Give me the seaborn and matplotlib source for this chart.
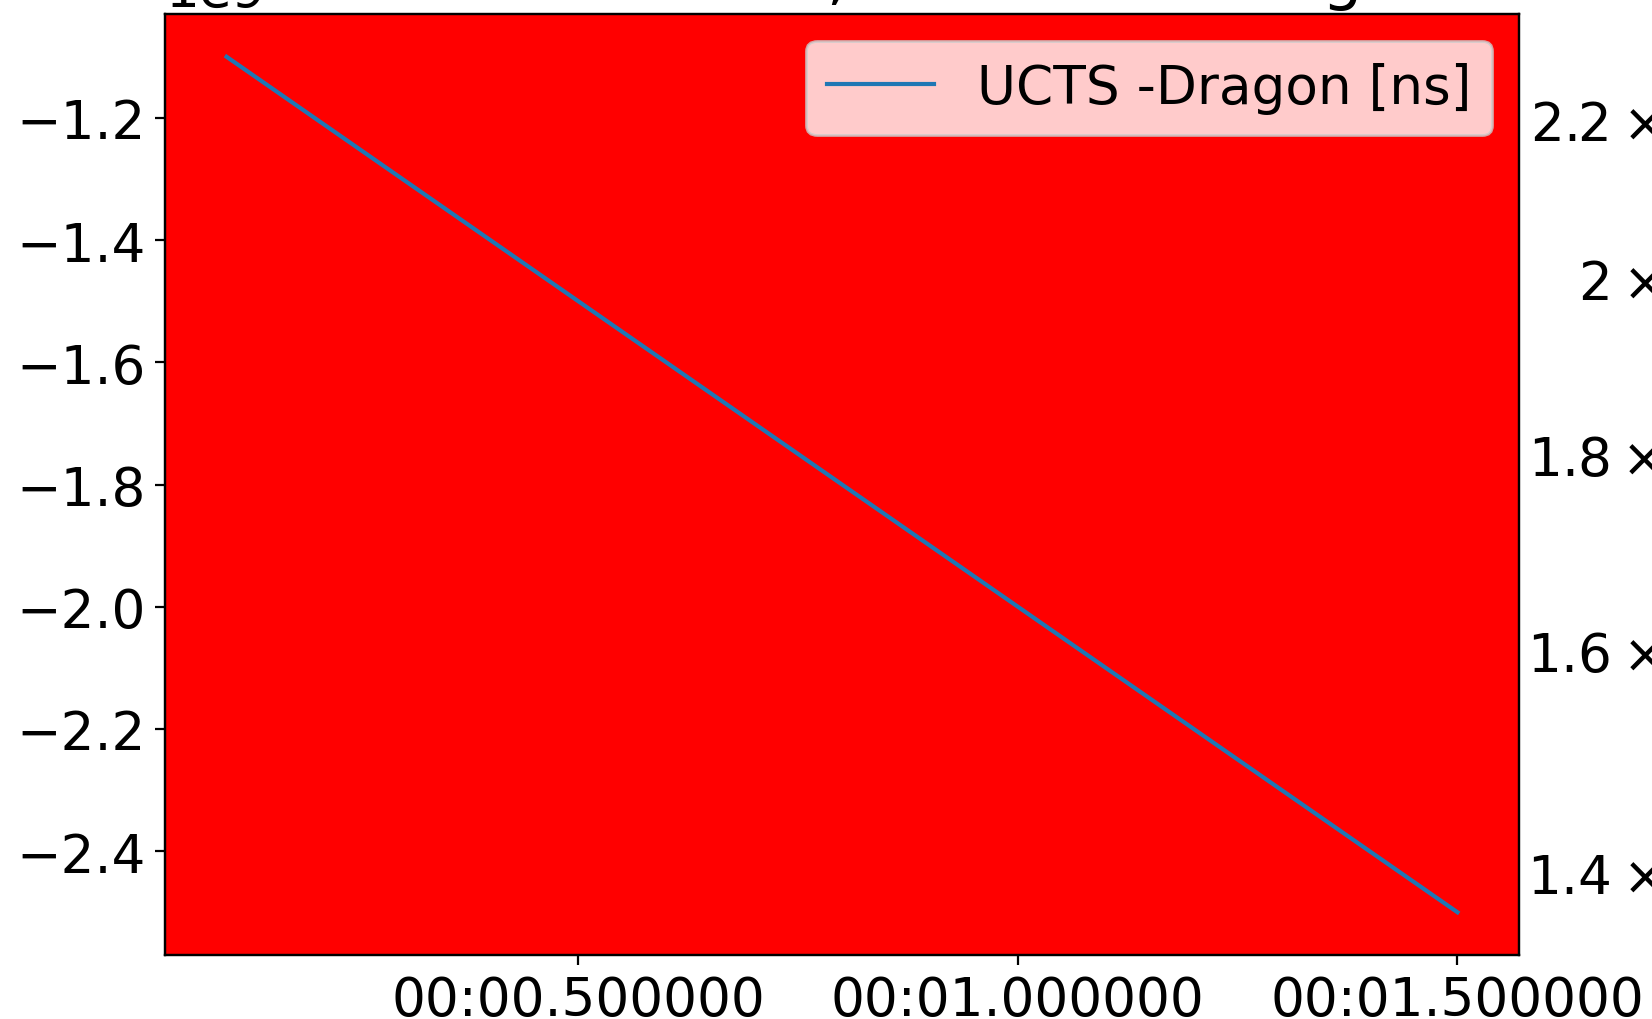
"""UCTS - Dragon timestamp difference against event time."""

import matplotlib

matplotlib.use("Agg")
import matplotlib.dates as mdates
import matplotlib.pyplot as plt
import pandas as pd
import seaborn as sns


# seconds since start of run, and UCTS - Dragon difference [ns]
time_s = [0.1, 0.5, 1.0, 1.5]
delta_ns = [-1.1e9, -1.5e9, -2.0e9, -2.5e9]
series_label = "UCTS -Dragon [ns]"
title = "Time delta UCTS - TIB, run 1800 at high rate"
right_limits = [1.333e9, 2.345e9]

DPI = 200
plt.rcParams["font.size"] = 19.2

df = pd.DataFrame({
    "time": pd.Timestamp("1970-01-01") + pd.to_timedelta(time_s, unit="s"),
    "delta": delta_ns,
})

fig = plt.figure(figsize=(8.26, 5.1), dpi=DPI)
ax = fig.add_axes([0.0999, 0.0627, 0.8196, 0.9226])
ax.set_facecolor("red")
sns.lineplot(data=df, x="time", y="delta", ax=ax, label=series_label)
ax.xaxis.set_major_locator(mdates.MicrosecondLocator(interval=500000))
ax.xaxis.set_major_formatter(mdates.DateFormatter("%M:%S.%f"))
ax.set_xlabel("")
ax.set_ylabel("")
ax.set_title(title, y=1.0)

ax2 = ax.twinx()
ax2.set_yscale("log")
ax2.set_ylim(right_limits)

# right-hand labels are right aligned in the original, no tick marks
fig.canvas.draw()
labels = ax2.get_yticklabels(minor=True) + ax2.get_yticklabels()
width_px = max(lab.get_window_extent().width for lab in labels if lab.get_text())
ax2.tick_params(axis="y", which="both", length=0, pad=2.8 + width_px * 72 / DPI)
for lab in labels:
    lab.set_horizontalalignment("right")

fig.savefig("out.png", dpi=DPI)
plt.close(fig)
